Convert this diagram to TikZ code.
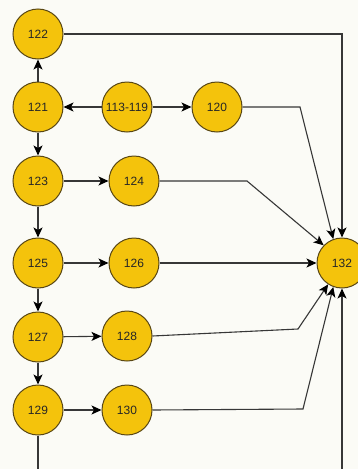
\documentclass[tikz,border=0pt]{standalone}
\usepackage{fontspec}
\setmainfont{Liberation Sans}
\usetikzlibrary{arrows.meta}
\definecolor{nodefill}{RGB}{244,195,12}
\definecolor{nodeedge}{RGB}{88,70,20}
\definecolor{linecol}{RGB}{55,55,55}
\definecolor{bgcol}{RGB}{251,251,246}
\begin{document}
\begin{tikzpicture}[x=1pt,y=-1pt,
  state/.style={circle, draw=nodeedge, fill=nodefill, line width=1pt,
    minimum size=50pt, inner sep=0pt, text=black!85,
    font=\fontsize{12}{14}\selectfont},
  flow/.style={draw=linecol, line width=1.1pt,
    -{Stealth[length=10pt,width=9pt,inset=2.5pt,color=black,fill=black]}},
  link/.style={draw=linecol, line width=1.1pt}]
  % canvas
  \useasboundingbox (0,0) rectangle (358,469);
  \fill[bgcol] (0,0) rectangle (358,469);
  \clip (0,0) rectangle (358,469);

  % states
  \node[state] (n122) at (38,34)  {122};
  \node[state] (n121) at (38,107) {121};
  \node[state] (n113) at (127,107) {113-119};
  \node[state] (n120) at (217,107) {120};
  \node[state] (n123) at (38,181) {123};
  \node[state] (n124) at (134,181) {124};
  \node[state] (n125) at (38,263) {125};
  \node[state] (n126) at (134,263) {126};
  \node[state] (n127) at (38,337) {127};
  \node[state] (n128) at (127,336) {128};
  \node[state] (n129) at (38,410) {129};
  \node[state] (n130) at (127,410) {130};
  \node[state] (n132) at (342,263) {132};

  % bend points and loose ends
  \coordinate (b120) at (300,107);
  \coordinate (b124) at (247,181);
  \coordinate (b128) at (298,329);
  \coordinate (b130) at (303,409);
  \coordinate (out129) at (38,480);
  \coordinate (in132) at (342,480);

  % left column and branches
  \draw[flow] (n121) -- (n122);
  \draw[flow] (n113) -- (n121);
  \draw[flow] (n113) -- (n120);
  \draw[flow] (n121) -- (n123);
  \draw[flow] (n123) -- (n124);
  \draw[flow] (n123) -- (n125);
  \draw[flow] (n125) -- (n126);
  \draw[flow] (n125) -- (n127);
  \draw[flow] (n127) -- (n128);
  \draw[flow] (n127) -- (n129);
  \draw[flow] (n129) -- (n130);

  % joins into 132
  \draw[flow] (n122.east) -| (n132.north);
  \draw[flow] (n120.east) -- (b120) -- (n132.110);
  \draw[flow] (n124.east) -- (b124) -- (n132.136);
  \draw[flow] (n126) -- (n132);
  \draw[flow] (n128.east) -- (b128) -- (n132.237);
  \draw[flow] (n130.east) -- (b130) -- (n132.250);
  \draw[link] (n129.south) -- (out129);
  \draw[flow] (in132) -- (n132.south);
\end{tikzpicture}
\end{document}
